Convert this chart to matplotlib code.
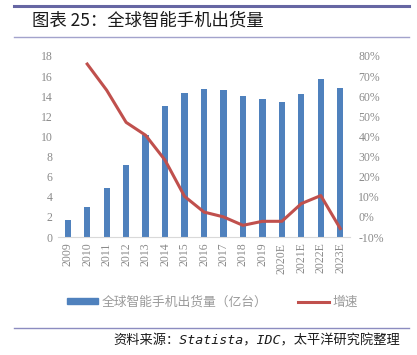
import matplotlib
matplotlib.use("Agg")
import matplotlib.pyplot as plt
from matplotlib.lines import Line2D
from matplotlib.patches import Patch
import numpy as np

plt.rcParams['font.family'] = ['Noto Sans CJK SC', 'DejaVu Sans']

years = ["2009", "2010", "2011", "2012", "2013", "2014", "2015", "2016", "2017",
         "2018", "2019", "2020E", "2021E", "2022E", "2023E"]
shipments = [1.7, 3.0, 4.9, 7.2, 10.1, 13.0, 14.3, 14.7, 14.6, 14.0, 13.7, 13.4, 14.2, 15.7, 14.8]
growth_years = years[1:]
growth = [76, 63, 47, 40.6, 28.2, 10.2, 2.4, 0.0, -4.2, -2.2, -2.2, 6.6, 10.6, -5.8]

left_ticks = [0, 2, 4, 6, 8, 10, 12, 14, 16, 18]
right_ticks = [-10, 0, 10, 20, 30, 40, 50, 60, 70, 80]

bar_color = "#4F81BD"
line_color = "#C0504D"
tick_color = "#8a8a8a"
W, H = 417, 355

fig = plt.figure(figsize=(W / 100, H / 100), dpi=100)
ax = fig.add_axes([58 / W, 1 - 237 / H, (350 - 58) / W, (237 - 56) / H])
x = np.arange(len(years))
ax.bar(x, shipments, width=0.32, color=bar_color, zorder=2)
ax.set_xlim(-0.5, len(years) - 0.5)
ax.set_ylim(0, 18)
ax.set_yticks(left_ticks)
ax.set_yticklabels([str(t) for t in left_ticks], family='Liberation Serif', fontsize=8.5, color=tick_color)
ax.set_xticks(x)
ax.set_xticklabels(years, rotation=90, family='Liberation Serif', fontsize=8.5, color=tick_color)
for s in ['top', 'right', 'left']:
    ax.spines[s].set_visible(False)
ax.spines['bottom'].set_color('#d9d9d9')
ax.tick_params(length=0, pad=4)

ax2 = ax.twinx()
gx = [years.index(y) for y in growth_years]
ax2.plot(gx, growth, color=line_color, lw=2.2, zorder=3)
ax2.set_ylim(-10, 80)
ax2.set_yticks(right_ticks)
ax2.set_yticklabels([f"{t}%" for t in right_ticks], family='Liberation Serif', fontsize=8.5, color=tick_color)
for s in ['top', 'right', 'left', 'bottom']:
    ax2.spines[s].set_visible(False)
ax2.tick_params(length=0, pad=6)

handles = [Patch(color=bar_color), Line2D([0], [0], color=line_color, lw=2.2)]
fig.legend(handles, ["全球智能手机出货量（亿台）", "增速"], loc='center', bbox_to_anchor=(0.51, 1 - 302 / H),
           ncol=2, frameon=False, fontsize=9.2, labelcolor='#9a9a9a', handlelength=2.4,
           handleheight=0.45, columnspacing=2.4, handletextpad=0.3)

# title and decorative lines
fig.add_artist(Line2D([14 / W, 409 / W], [1 - 5.5 / H, 1 - 5.5 / H], color='#6666a3', lw=2.2))
fig.add_artist(Line2D([14 / W, 409 / W], [1 - 37 / H, 1 - 37 / H], color='#a3a3cc', lw=1))
fig.add_artist(Line2D([14 / W, 409 / W], [1 - 327.5 / H, 1 - 327.5 / H], color='#8c8cc0', lw=1))
fig.text(32 / W, 1 - 21 / H, "图表 25：全球智能手机出货量", fontsize=12.5, va='center', ha='left', color='#1a1a1a')
fig.text(400 / W, 1 - 341 / H, "资料来源：Statista，IDC，太平洋研究院整理", fontsize=9.5, va='center',
         ha='right', style='italic', color='#1a1a1a', family=['DejaVu Sans Mono', 'Noto Sans CJK SC'])

fig.savefig("out.png", dpi=100)
